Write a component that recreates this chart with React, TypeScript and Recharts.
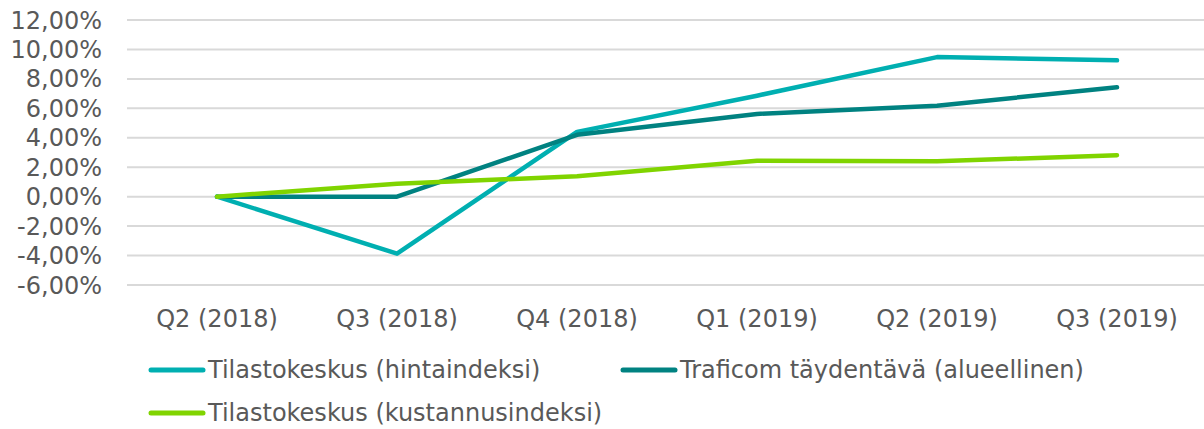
import React from "react";
import {
  LineChart,
  Line,
  XAxis,
  YAxis,
  CartesianGrid,
  Legend,
} from "recharts";

const quarters = [
  "Q2 (2018)",
  "Q3 (2018)",
  "Q4 (2018)",
  "Q1 (2019)",
  "Q2 (2019)",
  "Q3 (2019)",
];
const hintaindeksi = [0, -3.87, 4.4, 6.86, 9.48, 9.26];
const traficom = [0, 0, 4.2, 5.62, 6.18, 7.43];
const kustannusindeksi = [0, 0.88, 1.38, 2.44, 2.4, 2.81];
const yTicks = [-6, -4, -2, 0, 2, 4, 6, 8, 10, 12];

const seriesNames = [
  "Tilastokeskus (hintaindeksi)",
  "Traficom täydentävä (alueellinen)",
  "Tilastokeskus (kustannusindeksi)",
];
const colors = ["#00AFB1", "#008281", "#80D400"];

const data = quarters.map((q, i) => ({
  name: q,
  hinta: hintaindeksi[i],
  traficom: traficom[i],
  kustannus: kustannusindeksi[i],
}));

const FONT = "'DejaVu Sans', Verdana, sans-serif";
const TEXT = "#595959";
const FS = 24;

const fmt = (v: number) => v.toFixed(2).replace(".", ",") + "%";

const legendPos = [
  { left: 148, top: 25 },
  { left: 620, top: 25 },
  { left: 148, top: 68 },
];

const LegendContent = () => (
  <div style={{ position: "relative", width: 1204, height: 84 }}>
    {seriesNames.map((n, i) => (
      <div
        key={n}
        style={{
          position: "absolute",
          left: legendPos[i].left,
          top: legendPos[i].top,
          transform: "translateY(-50%)",
          display: "flex",
          alignItems: "center",
          whiteSpace: "nowrap",
          fontFamily: FONT,
          fontSize: FS,
          color: TEXT,
        }}
      >
        <svg width={58} height={8} style={{ marginRight: 2 }}>
          <line
            x1={3}
            y1={4}
            x2={55}
            y2={4}
            stroke={colors[i]}
            strokeWidth={5}
            strokeLinecap="round"
          />
        </svg>
        {n}
      </div>
    ))}
  </div>
);

const App = () => {
  return (
    <div style={{ position: "absolute", left: 0, top: 0 }}>
      <LineChart
        width={1204}
        height={429}
        data={data}
        margin={{ top: 20, right: 0, bottom: 0, left: 0 }}
      >
        <CartesianGrid
          vertical={false}
          stroke="#D9D9D9"
          strokeWidth={2}
        />
        <XAxis
          dataKey="name"
          axisLine={false}
          tickLine={false}
          tickSize={0}
          tickMargin={25}
          height={60}
          padding={{ left: 90, right: 87 }}
          interval={0}
          tick={{ fill: TEXT, fontSize: FS, fontFamily: FONT }}
        />
        <YAxis
          domain={[-6, 12]}
          ticks={yTicks}
          width={127}
          axisLine={false}
          tickLine={false}
          tickSize={0}
          tickMargin={25}
          interval={0}
          tickFormatter={fmt}
          tick={{ fill: TEXT, fontSize: FS, fontFamily: FONT }}
        />
        <Legend verticalAlign="bottom" height={84} content={<LegendContent />} />
        <Line
          type="linear"
          dataKey="hinta"
          name={seriesNames[0]}
          stroke={colors[0]}
          strokeWidth={4.5}
          strokeLinecap="round"
          strokeLinejoin="round"
          dot={false}
          activeDot={false}
          isAnimationActive={false}
        />
        <Line
          type="linear"
          dataKey="traficom"
          name={seriesNames[1]}
          stroke={colors[1]}
          strokeWidth={4.5}
          strokeLinecap="round"
          strokeLinejoin="round"
          dot={false}
          activeDot={false}
          isAnimationActive={false}
        />
        <Line
          type="linear"
          dataKey="kustannus"
          name={seriesNames[2]}
          stroke={colors[2]}
          strokeWidth={4.5}
          strokeLinecap="round"
          strokeLinejoin="round"
          dot={false}
          activeDot={false}
          isAnimationActive={false}
        />
      </LineChart>
    </div>
  );
};

export default App;
